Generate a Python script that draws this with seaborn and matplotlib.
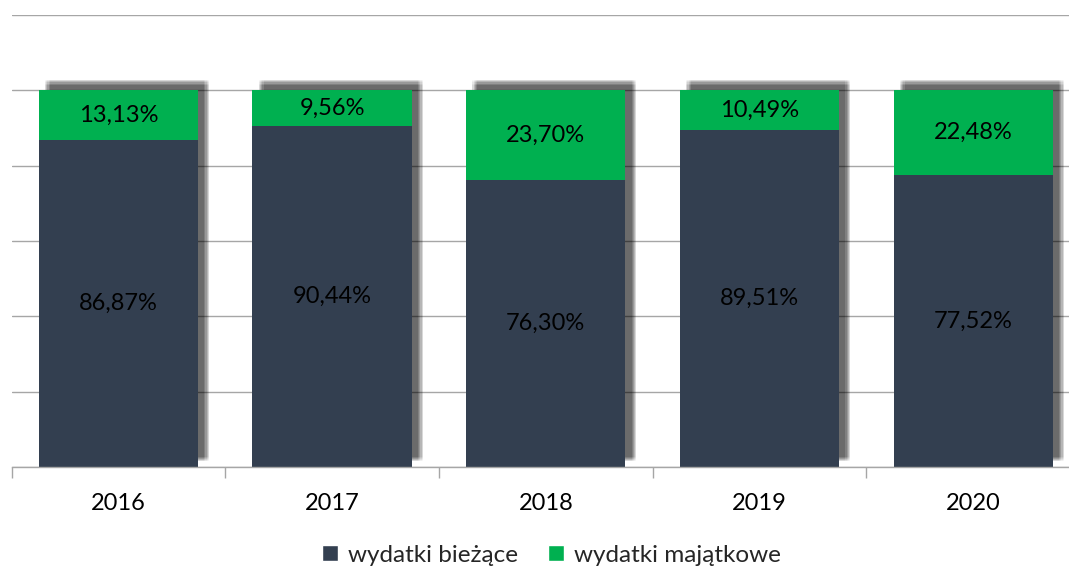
import numpy as np
import pandas as pd
import matplotlib
matplotlib.use("Agg")
import matplotlib.pyplot as plt
import matplotlib.patheffects as pe
from matplotlib.patches import Patch
from matplotlib.ticker import FixedLocator
import seaborn as sns

years = ["2016", "2017", "2018", "2019", "2020"]
biezace = [86.87, 90.44, 76.30, 89.51, 77.52]
majatkowe = [13.13, 9.56, 23.70, 10.49, 22.48]
labels_biezace = ["86,87%", "90,44%", "76,30%", "89,51%", "77,52%"]
labels_majatkowe = ["13,13%", "9,56%", "23,70%", "10,49%", "22,48%"]

dark = "#333F50"
green = "#00B050"
grid_gray = "#A6A6A6"

sns.set_theme(style="white")
plt.rcParams["font.family"] = ["Lato", "DejaVu Sans"]

df = pd.DataFrame({"rok": years, "biezace": biezace, "majatkowe": majatkowe})

fig = plt.figure(figsize=(10.69, 5.69), dpi=100)
# plot area runs a bit past the right edge of the picture, as in the original
ax = fig.add_axes([0.0108, 0.1793, 0.9995, 0.7943])

# blurred shadow made of many shifted copies
shadow = []
for dx in np.linspace(4.5, 8.0, 5):
    for dy in np.linspace(4.0, 7.5, 5):
        shadow.append(pe.SimplePatchShadow(offset=(dx, dy), shadow_rgbFace="#000000", alpha=0.03))
shadow.append(pe.Normal())

sns.barplot(data=df, x="rok", y="biezace", color=dark, width=0.745,
            saturation=1, ax=ax, zorder=2)
sns.barplot(data=df, x="rok", y="majatkowe", color=green, width=0.745,
            saturation=1, ax=ax, zorder=2, bottom=df["biezace"].values)

for p in ax.patches:
    p.set_path_effects(shadow)
    p.set_edgecolor("none")

for i in range(len(years)):
    ax.text(i, biezace[i] / 2, labels_biezace[i], ha="center", va="center",
            fontsize=17, color="black", zorder=5)
    ax.text(i, biezace[i] + majatkowe[i] / 2, labels_majatkowe[i], ha="center",
            va="center", fontsize=17, color="black", zorder=5)

ax.set_ylim(0, 120)
ax.set_xlim(-0.5, len(years) - 0.5)
ax.set_yticks(np.arange(0, 121, 20))
ax.set_yticklabels([])
ax.yaxis.grid(True, color=grid_gray, linewidth=1)
ax.set_axisbelow(True)
ax.tick_params(axis="y", length=0)

ax.xaxis.set_minor_locator(FixedLocator(np.arange(-0.5, len(years), 1)))
ax.tick_params(axis="x", which="major", length=0, pad=19, labelsize=17, labelcolor="black")
ax.tick_params(axis="x", which="minor", length=8, width=1, color=grid_gray, bottom=True)
ax.set_xlabel("")
ax.set_ylabel("")

for s in ["top", "left", "right"]:
    ax.spines[s].set_visible(False)
ax.spines["bottom"].set_color(grid_gray)
ax.spines["bottom"].set_linewidth(1)

handles = [Patch(facecolor=dark, label="wydatki bieżące"),
           Patch(facecolor=green, label="wydatki majątkowe")]
fig.legend(handles=handles, loc="center", bbox_to_anchor=(0.516, 0.024), ncol=2,
           frameon=False, fontsize=17.5, handlelength=0.65, handleheight=0.65,
           handletextpad=0.4, columnspacing=1.25)

fig.savefig("out.png", dpi=100)
